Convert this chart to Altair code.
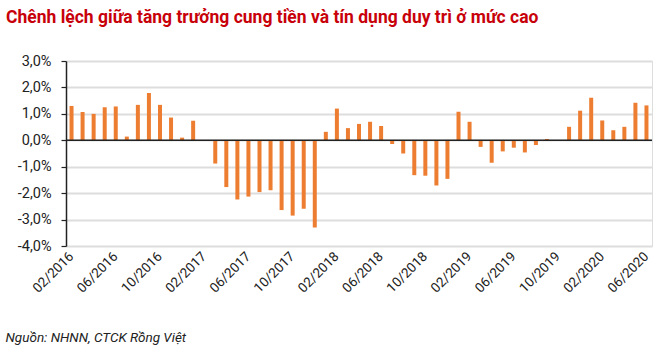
import altair as alt
import pandas as pd

years = [2016, 2017, 2018, 2019, 2020]
months = [f"{m:02d}/{y}" for y in years for m in range(1, 13)]
months = months[months.index("02/2016"): months.index("06/2020") + 1]

values = [1.30, 1.07, 1.00, 1.25, 1.28, 0.14, 1.34, 1.79, 1.34, 0.86, 0.10, 0.74,
          0.00, -0.88, -1.77, -2.24, -2.13, -1.96, -1.89, -2.64, -2.85, -2.59, -3.30,
          0.32, 1.20, 0.46, 0.62, 0.70, 0.54, -0.14, -0.50, -1.32, -1.34, -1.71, -1.46,
          1.08, 0.70, -0.25, -0.85, -0.42, -0.28, -0.46, -0.18, 0.05, 0.00,
          0.51, 1.12, 1.61, 0.75, 0.38, 0.51, 1.42, 1.32]

tick_labels = ["02/2016", "06/2016", "10/2016", "02/2017", "06/2017", "10/2017", "02/2018",
               "06/2018", "10/2018", "02/2019", "06/2019", "10/2019", "02/2020", "06/2020"]
y_ticks = [-4, -3, -2, -1, 0, 1, 2, 3]

title_text = "Chênh lệch giữa tăng trưởng cung tiền và tín dụng duy trì ở mức cao"
source_text = "Nguồn: NHNN, CTCK Rồng Việt"

df = pd.DataFrame({"month": months, "value": values})
FONT = "Roboto"

base = alt.Chart(df)

bars = base.mark_bar(color="#ED7D31", size=4).encode(
    x=alt.X("month:O", sort=months,
            scale=alt.Scale(paddingInner=0, paddingOuter=0),
            axis=alt.Axis(values=tick_labels, labelAngle=315, labelAlign="right",
                          labelBaseline="middle", labelPadding=8, ticks=False, domain=False,
                          labelOverlap=False,
                          labelFont=FONT, labelFontSize=13.5, labelColor="#222222",
                          title=source_text, titleFont=FONT, titleFontSize=13.5,
                          titleFontStyle="italic", titleFontWeight="normal",
                          titleColor="#222222", titleX=-61, titleY=91,
                          titleAlign="left", titleBaseline="middle", titleAnchor="start")),
    y=alt.Y("value:Q",
            scale=alt.Scale(domain=[-4, 3], nice=False),
            axis=alt.Axis(values=y_ticks, tickCount=8, title=None, grid=True, gridColor="#dddddd",
                          gridWidth=2, domain=True, domainColor="#222222", domainWidth=1.5,
                          ticks=True, tickColor="#222222", tickSize=5, tickWidth=1.2,
                          labelOverlap=False,
                          labelPadding=10, labelFont=FONT, labelFontSize=14.5,
                          labelColor="#222222",
                          labelExpr="(datum.value < 0 ? '-' : '') + replace(format(abs(datum.value), '.1f'), '.', ',') + '%'")),
)

zero = alt.Chart(pd.DataFrame({"z": [0]})).mark_rule(color="#222222", strokeWidth=1.5).encode(
    y=alt.Y("z:Q", axis=None)
)

chart = alt.layer(bars, zero).properties(
    width=586, height=185,
    title=alt.TitleParams(title_text, anchor="start", frame="group", dx=-60, offset=27,
                          font=FONT, fontSize=17.5, fontWeight="bold", color="#C8000A"),
    autosize=alt.AutoSizeParams(type="none"),
    padding={"left": 66, "top": 61, "right": 13, "bottom": 111},
).resolve_axis(y="independent").configure_view(stroke=None).configure(background="white")

chart.save("out.html", embed_options={"renderer": "svg", "actions": False})
